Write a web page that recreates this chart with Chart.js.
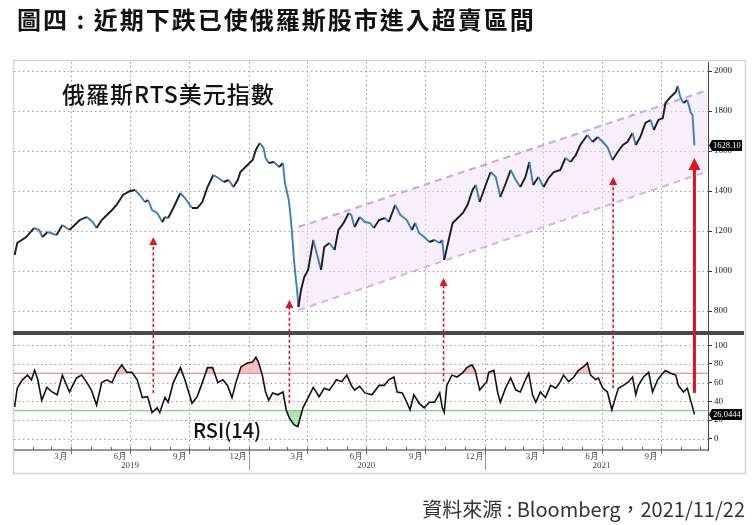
<!DOCTYPE html>
<html><head><meta charset="utf-8">
<script src="https://cdn.jsdelivr.net/npm/chart.js@4"></script>
<style>
body{margin:0;background:#fff}
#wrap{position:relative;width:756px;height:525px;overflow:hidden;background:#fff}
canvas{position:absolute;left:0;top:0}
.t{position:absolute;white-space:nowrap;font-family:"Noto Sans CJK TC","Noto Sans CJK SC",sans-serif;color:#111}
</style></head>
<body><div id="wrap">
<canvas id="c" width="756" height="525"></canvas>
<div class="t" style="left:17px;top:7px;font-size:24px;line-height:24px;font-weight:700;letter-spacing:2px;">圖四 : 近期下跌已使俄羅斯股市進入超賣區間</div>
<div class="t" style="left:62px;top:82px;font-size:23px;line-height:23px;letter-spacing:1px;font-weight:500;">俄羅斯RTS美元指數</div>
<div class="t" style="left:193px;top:420px;font-size:20px;line-height:20px;font-weight:500;">RSI(14)</div>
<div class="t" style="right:11px;top:499px;font-size:20px;line-height:20px;color:#333;">資料來源 : Bloomberg，2021/11/22</div>
</div>
<script>
const priceDates = [
'2019-01-03','2019-01-07','2019-01-21','2019-02-02','2019-02-10','2019-02-15','2019-02-23','2019-03-09','2019-03-18','2019-03-29',
'2019-04-14','2019-04-25','2019-05-04','2019-05-10','2019-05-18','2019-05-26','2019-06-03','2019-06-10','2019-06-20','2019-07-01',
'2019-07-09','2019-07-16','2019-07-24','2019-07-29','2019-08-04','2019-08-12','2019-08-20','2019-08-24','2019-08-29','2019-09-06',
'2019-09-17','2019-09-24','2019-10-05','2019-10-13','2019-10-21','2019-10-29','2019-11-07','2019-11-15','2019-11-23','2019-12-01',
'2019-12-08','2019-12-15','2019-12-19','2019-12-30',
'2020-01-07','2020-01-12','2020-01-18','2020-01-24','2020-01-27','2020-02-01','2020-02-09','2020-02-17','2020-02-23','2020-02-26',
'2020-02-29','2020-03-03','2020-03-06','2020-03-09','2020-03-11','2020-03-14','2020-03-16','2020-03-18','2020-03-22','2020-03-27',
'2020-04-02','2020-04-10','2020-04-14','2020-04-22','2020-04-27','2020-05-05','2020-05-13','2020-05-19','2020-05-27','2020-06-04',
'2020-06-08','2020-06-13','2020-06-21','2020-06-29','2020-07-07','2020-07-13','2020-07-21','2020-07-30','2020-08-05','2020-08-15',
'2020-08-23','2020-09-02','2020-09-10','2020-09-15','2020-09-21','2020-09-29','2020-10-07','2020-10-15','2020-10-23','2020-10-27',
'2020-10-30','2020-11-07','2020-11-12','2020-11-20','2020-11-28','2020-12-05','2020-12-13','2020-12-18','2020-12-24',
'2020-12-29','2021-01-04','2021-01-10','2021-01-18','2021-01-25','2021-02-02','2021-02-10','2021-02-18','2021-02-25','2021-03-05',
'2021-03-11','2021-03-17','2021-03-25','2021-04-02','2021-04-10','2021-04-18','2021-04-28','2021-05-06','2021-05-14','2021-05-22',
'2021-05-29','2021-06-09','2021-06-17','2021-06-25','2021-07-03','2021-07-10','2021-07-18','2021-07-26','2021-08-03','2021-08-10',
'2021-08-18','2021-08-23','2021-08-30','2021-09-07','2021-09-15','2021-09-20','2021-09-27','2021-10-04','2021-10-08','2021-10-16',
'2021-10-24','2021-10-27','2021-10-31','2021-11-05','2021-11-11','2021-11-16','2021-11-19','2021-11-22'];
const priceValues = [
1080,1140,1170,1215,1205,1170,1195,1180,1230,1205,
1255,1270,1245,1215,1255,1280,1305,1330,1380,1400,
1405,1380,1345,1355,1305,1290,1245,1270,1265,1315,
1390,1365,1315,1315,1345,1420,1480,1465,1445,1455,
1420,1455,1495,1530,
1555,1605,1640,1615,1565,1540,1545,1520,1540,1440,
1400,1355,1270,1150,1060,960,900,820,905,970,
1005,1155,1105,1005,1120,1140,1105,1205,1240,1290,
1280,1220,1270,1245,1240,1215,1255,1265,1245,1330,
1280,1255,1205,1240,1190,1170,1145,1155,1140,1155,
1055,1170,1240,1265,1290,1330,1405,1430,1345,
1390,1445,1495,1470,1370,1435,1505,1455,1420,1470,
1545,1430,1470,1420,1465,1495,1505,1565,1545,1580,
1630,1680,1645,1670,1645,1620,1555,1595,1630,1645,
1690,1630,1670,1740,1755,1705,1755,1765,1840,1870,
1895,1925,1870,1840,1855,1795,1780,1628.10];

const rsiDates = [
'2019-01-03','2019-01-07','2019-01-15','2019-01-23','2019-01-29','2019-02-03','2019-02-08','2019-02-14','2019-02-22','2019-03-02',
'2019-03-10','2019-03-18','2019-03-29','2019-04-09','2019-04-17','2019-04-25','2019-05-02','2019-05-10','2019-05-18','2019-05-26',
'2019-06-03','2019-06-10','2019-06-18','2019-06-26','2019-07-04','2019-07-12','2019-07-20','2019-07-28','2019-08-04','2019-08-12',
'2019-08-16','2019-08-24','2019-08-29','2019-09-06','2019-09-17','2019-09-24','2019-10-05','2019-10-13','2019-10-21','2019-10-29',
'2019-11-06','2019-11-14','2019-11-22','2019-11-29','2019-12-06','2019-12-12','2019-12-20','2019-12-30',
'2020-01-07','2020-01-12','2020-01-16','2020-01-22','2020-01-27','2020-02-01','2020-02-07','2020-02-15','2020-02-23','2020-02-28',
'2020-03-04','2020-03-11','2020-03-17','2020-03-25','2020-04-02','2020-04-10','2020-04-19','2020-04-27','2020-05-05','2020-05-16',
'2020-05-24','2020-06-01','2020-06-08','2020-06-13','2020-06-21','2020-06-29','2020-07-10','2020-07-21','2020-07-29','2020-08-05',
'2020-08-13','2020-08-18','2020-08-26','2020-09-02','2020-09-07','2020-09-13','2020-09-21','2020-09-29','2020-10-07','2020-10-15',
'2020-10-23','2020-10-27','2020-10-30','2020-11-03','2020-11-11','2020-11-19','2020-11-27','2020-12-04','2020-12-12','2020-12-17',
'2020-12-24',
'2021-01-04','2021-01-07','2021-01-15','2021-01-21','2021-01-25','2021-02-02','2021-02-10','2021-02-18','2021-02-25','2021-03-05',
'2021-03-10','2021-03-16','2021-03-21','2021-03-28','2021-04-05','2021-04-13','2021-04-21','2021-04-28','2021-05-03','2021-05-11',
'2021-05-19','2021-05-26','2021-06-03','2021-06-09','2021-06-14','2021-06-22','2021-06-26','2021-07-03','2021-07-10','2021-07-17',
'2021-07-23','2021-07-27','2021-08-04','2021-08-12','2021-08-18','2021-08-23','2021-08-27','2021-09-04','2021-09-12','2021-09-18',
'2021-09-26','2021-10-04','2021-10-08','2021-10-16','2021-10-24','2021-10-28','2021-11-05','2021-11-11','2021-11-16','2021-11-19',
'2021-11-22'];
const rsiValues = [
34,54,63,68,63,73,63,41,55,50,
47,68,50,65,68,60,52,36,60,63,
60,71,79,71,71,63,44,45,28,33,
28,44,39,60,76,63,38,45,60,76,
76,60,63,57,44,60,77,81,
82,87,82,68,50,41,49,47,50,31,
22,15,13,33,44,55,45,54,52,63,
61,68,57,52,56,49,47,57,57,63,
66,50,49,39,31,47,38,33,39,39,
49,33,28,57,68,66,70,76,79,73,
52,
61,71,73,49,39,54,65,52,50,63,
70,47,39,50,44,57,54,61,68,61,
66,73,77,81,68,63,65,54,50,31,
45,54,57,61,66,47,57,66,71,50,
63,70,73,70,68,57,50,54,41,34,
26.0444];

const channelDates = ['2020-03-18','2021-12-13'];
const channelUpper = [1220, 1905];
const channelLower = [805, 1500];

const arrowDates = ['2019-08-06','2020-03-04','2020-10-29','2021-07-19','2021-11-22'];
const arrowFromRsi = [49, 38, 61, 54, 49];
const arrowToPrice = [1170, 855, 965, 1470, 1565];

const rsiLevels = [70, 30];
const priceTicks = [800,1000,1200,1400,1600,1800,2000];
const rsiTicks = [0,20,40,60,80,100];
const xRange = ['2019-01-02','2021-12-13'];
const priceRange = [690, 2045];
const rsiRange = [-12, 113];

const quarterDates = ['2019-04-01','2019-07-01','2019-10-01','2020-01-01','2020-04-01','2020-07-01','2020-10-01','2021-01-01','2021-04-01','2021-07-01','2021-10-01'];
const monthStarts = [];
['2019','2020','2021'].forEach(yr=>{for(let m=1;m<=12;m++){monthStarts.push(yr+'-'+String(m).padStart(2,'0')+'-01');}});
const monthLabelDates = ['2019-03-16','2019-06-16','2019-09-16','2019-12-16','2020-03-16','2020-06-16','2020-09-16','2020-12-16','2021-03-16','2021-06-16','2021-09-16'];
const monthLabels = ['3月','6月','9月','12月','3月','6月','9月','12月','3月','6月','9月'];
const yearLabelDates = ['2019-07-01','2020-07-01','2021-07-01'];
const yearLabels = ['2019','2020','2021'];
const yearStarts = ['2020-01-01','2021-01-01'];

const T = d => Date.parse(d);
const pts = (ds, vs) => ds.map((d,i)=>({x:T(d), y:vs[i]}));

const deco = {
  id:'deco',
  beforeDraw(chart){
    const {ctx, chartArea:a} = chart; const x=chart.scales.x, y=chart.scales.y, r=chart.scales.rsi;
    ctx.save();
    ctx.fillStyle='#fff'; ctx.fillRect(0,0,chart.width,chart.height);
    ctx.strokeStyle='#d4d4d4'; ctx.lineWidth=1.5; ctx.strokeRect(13.5,60.5,732,413);
    const ln=(x1,y1,x2,y2)=>{ctx.beginPath();ctx.moveTo(x1,y1);ctx.lineTo(x2,y2);ctx.stroke();};
    ctx.strokeStyle='#9c9c9c'; ctx.lineWidth=1; ctx.setLineDash([1.5,3]);
    quarterDates.forEach(d=>{const px=Math.round(x.getPixelForValue(T(d)))+0.5; ln(px,a.top,px,a.bottom);});
    priceTicks.forEach(v=>{const py=Math.round(y.getPixelForValue(v))+0.5; ln(a.left,py,a.right,py);});
    rsiTicks.forEach(v=>{const py=Math.round(r.getPixelForValue(v))+0.5; ln(a.left,py,a.right,py);});
    ctx.setLineDash([]);
    ctx.lineWidth=1.2;
    ctx.strokeStyle='rgba(205,110,110,0.9)'; let py=r.getPixelForValue(rsiLevels[0]); ln(a.left,py,a.right,py);
    ctx.strokeStyle='rgba(120,205,120,0.95)'; py=r.getPixelForValue(rsiLevels[1]); ln(a.left,py,a.right,py);
    ctx.restore();
  },
  afterDraw(chart){
    const {ctx, chartArea:a} = chart; const x=chart.scales.x, y=chart.scales.y, r=chart.scales.rsi;
    ctx.save();
    const ln=(x1,y1,x2,y2)=>{ctx.beginPath();ctx.moveTo(x1,y1);ctx.lineTo(x2,y2);ctx.stroke();};
    ctx.fillStyle='#4a4a4a'; ctx.fillRect(13, y.bottom-2, 731, 4);
    ctx.strokeStyle='#777'; ctx.lineWidth=1.5; ln(a.left, a.bottom, a.right, a.bottom);
    ctx.lineWidth=1; ctx.strokeStyle='#666';
    monthStarts.forEach(d=>{const t=T(d); if(t<x.min||t>x.max) return; const px=Math.round(x.getPixelForValue(t))+0.5; ln(px,a.bottom-3,px,a.bottom);});
    quarterDates.forEach(d=>{const px=Math.round(x.getPixelForValue(T(d)))+0.5; ln(px,a.bottom,px,a.bottom+4);});
    ctx.strokeStyle='#999';
    yearStarts.forEach(d=>{const px=Math.round(x.getPixelForValue(T(d)))+0.5; ln(px,a.bottom+4,px,a.bottom+20);});
    ctx.fillStyle='#444'; ctx.font='9px "Liberation Serif"'; ctx.textAlign='center'; ctx.textBaseline='middle';
    monthLabelDates.forEach((d,i)=>ctx.fillText(monthLabels[i], x.getPixelForValue(T(d)), a.bottom+7));
    yearLabelDates.forEach((d,i)=>ctx.fillText(yearLabels[i], x.getPixelForValue(T(d)), a.bottom+16));
    const n=arrowDates.length;
    arrowDates.forEach((d,i)=>{
      const px=x.getPixelForValue(T(d)), y0=r.getPixelForValue(arrowFromRsi[i]), y1=y.getPixelForValue(arrowToPrice[i]);
      const solid=(i===n-1); const hl=solid?12:8, hw=solid?6:4;
      ctx.strokeStyle='#e3121b'; ctx.fillStyle='#e3121b';
      ctx.lineWidth=solid?3:1.6; ctx.setLineDash(solid?[]:[3,2.5]);
      ln(px,y0,px,y1+hl-1); ctx.setLineDash([]);
      ctx.beginPath(); ctx.moveTo(px,y1); ctx.lineTo(px-hw,y1+hl); ctx.lineTo(px+hw,y1+hl); ctx.closePath(); ctx.fill();
    });
    const box=(py,txt)=>{
      ctx.fillStyle='#000'; ctx.beginPath(); ctx.moveTo(a.right+1,py); ctx.lineTo(a.right+4,py-5.5); ctx.lineTo(a.right+34,py-5.5);
      ctx.lineTo(a.right+34,py+5.5); ctx.lineTo(a.right+4,py+5.5); ctx.closePath(); ctx.fill();
      ctx.fillStyle='#fff'; ctx.font='8.5px "Liberation Serif"'; ctx.textAlign='left'; ctx.textBaseline='middle';
      ctx.fillText(txt, a.right+5, py+0.5);
    };
    const lp=priceValues[priceValues.length-1], lr=rsiValues[rsiValues.length-1];
    box(y.getPixelForValue(lp), lp.toFixed(2));
    box(r.getPixelForValue(lr), lr.toFixed(4));
    ctx.restore();
  }
};

new Chart(document.getElementById('c'), {
  type:'line',
  data:{datasets:[
    {label:'RTS', data:pts(priceDates,priceValues), yAxisID:'y', borderColor:'#1c1c1c', borderWidth:1.9, pointRadius:0,
     segment:{borderColor:c=> c.p1.parsed.y < c.p0.parsed.y ? '#3b7dc4' : '#1c1c1c'}},
    {label:'RSI', data:pts(rsiDates,rsiValues), yAxisID:'rsi', borderColor:'#111', borderWidth:1.6, pointRadius:0,
     fill:{target:{value:rsiLevels[0]}, above:'rgba(242,160,160,0.65)', below:'rgba(0,0,0,0)'}},
    {label:'RSIlow', data:pts(rsiDates,rsiValues), yAxisID:'rsi', borderColor:'rgba(0,0,0,0)', borderWidth:0, pointRadius:0,
     fill:{target:{value:rsiLevels[1]}, above:'rgba(0,0,0,0)', below:'rgba(130,215,130,0.65)'}},
    {label:'upper', data:pts(channelDates,channelUpper), yAxisID:'y', borderColor:'rgba(200,165,218,0.95)', borderDash:[7,5], borderWidth:2.2, pointRadius:0,
     fill:'+1', backgroundColor:'rgba(240,226,250,0.55)'},
    {label:'lower', data:pts(channelDates,channelLower), yAxisID:'y', borderColor:'rgba(200,165,218,0.95)', borderDash:[7,5], borderWidth:2.2, pointRadius:0, fill:false}
  ]},
  options:{
    responsive:false, animation:false, devicePixelRatio:1,
    layout:{padding:{left:14, top:62, right:0, bottom:75}},
    plugins:{legend:{display:false}, tooltip:{enabled:false}},
    scales:{
      x:{type:'linear', display:false, min:T(xRange[0]), max:T(xRange[1])},
      y:{type:'linear', position:'right', stack:'p', stackWeight:271, min:priceRange[0], max:priceRange[1],
         afterFit:s=>{s.width=48;}, afterBuildTicks:s=>{s.ticks=priceTicks.map(v=>({value:v}));},
         ticks:{autoSkip:false, font:{family:'Liberation Serif', size:9}, color:'#222', padding:2, callback:v=>String(v)},
         grid:{drawOnChartArea:false, drawTicks:true, tickLength:4, color:'#333'}, border:{display:true, color:'#444', width:1}},
      rsi:{type:'linear', position:'right', stack:'p', stackWeight:117, min:rsiRange[0], max:rsiRange[1],
         afterFit:s=>{s.width=48;}, afterBuildTicks:s=>{s.ticks=rsiTicks.map(v=>({value:v}));},
         ticks:{autoSkip:false, font:{family:'Liberation Serif', size:9}, color:'#222', padding:2, callback:v=>String(v)},
         grid:{drawOnChartArea:false, drawTicks:true, tickLength:4, color:'#333'}, border:{display:true, color:'#444', width:1}}
    }
  },
  plugins:[deco]
});
</script>
</body></html>
